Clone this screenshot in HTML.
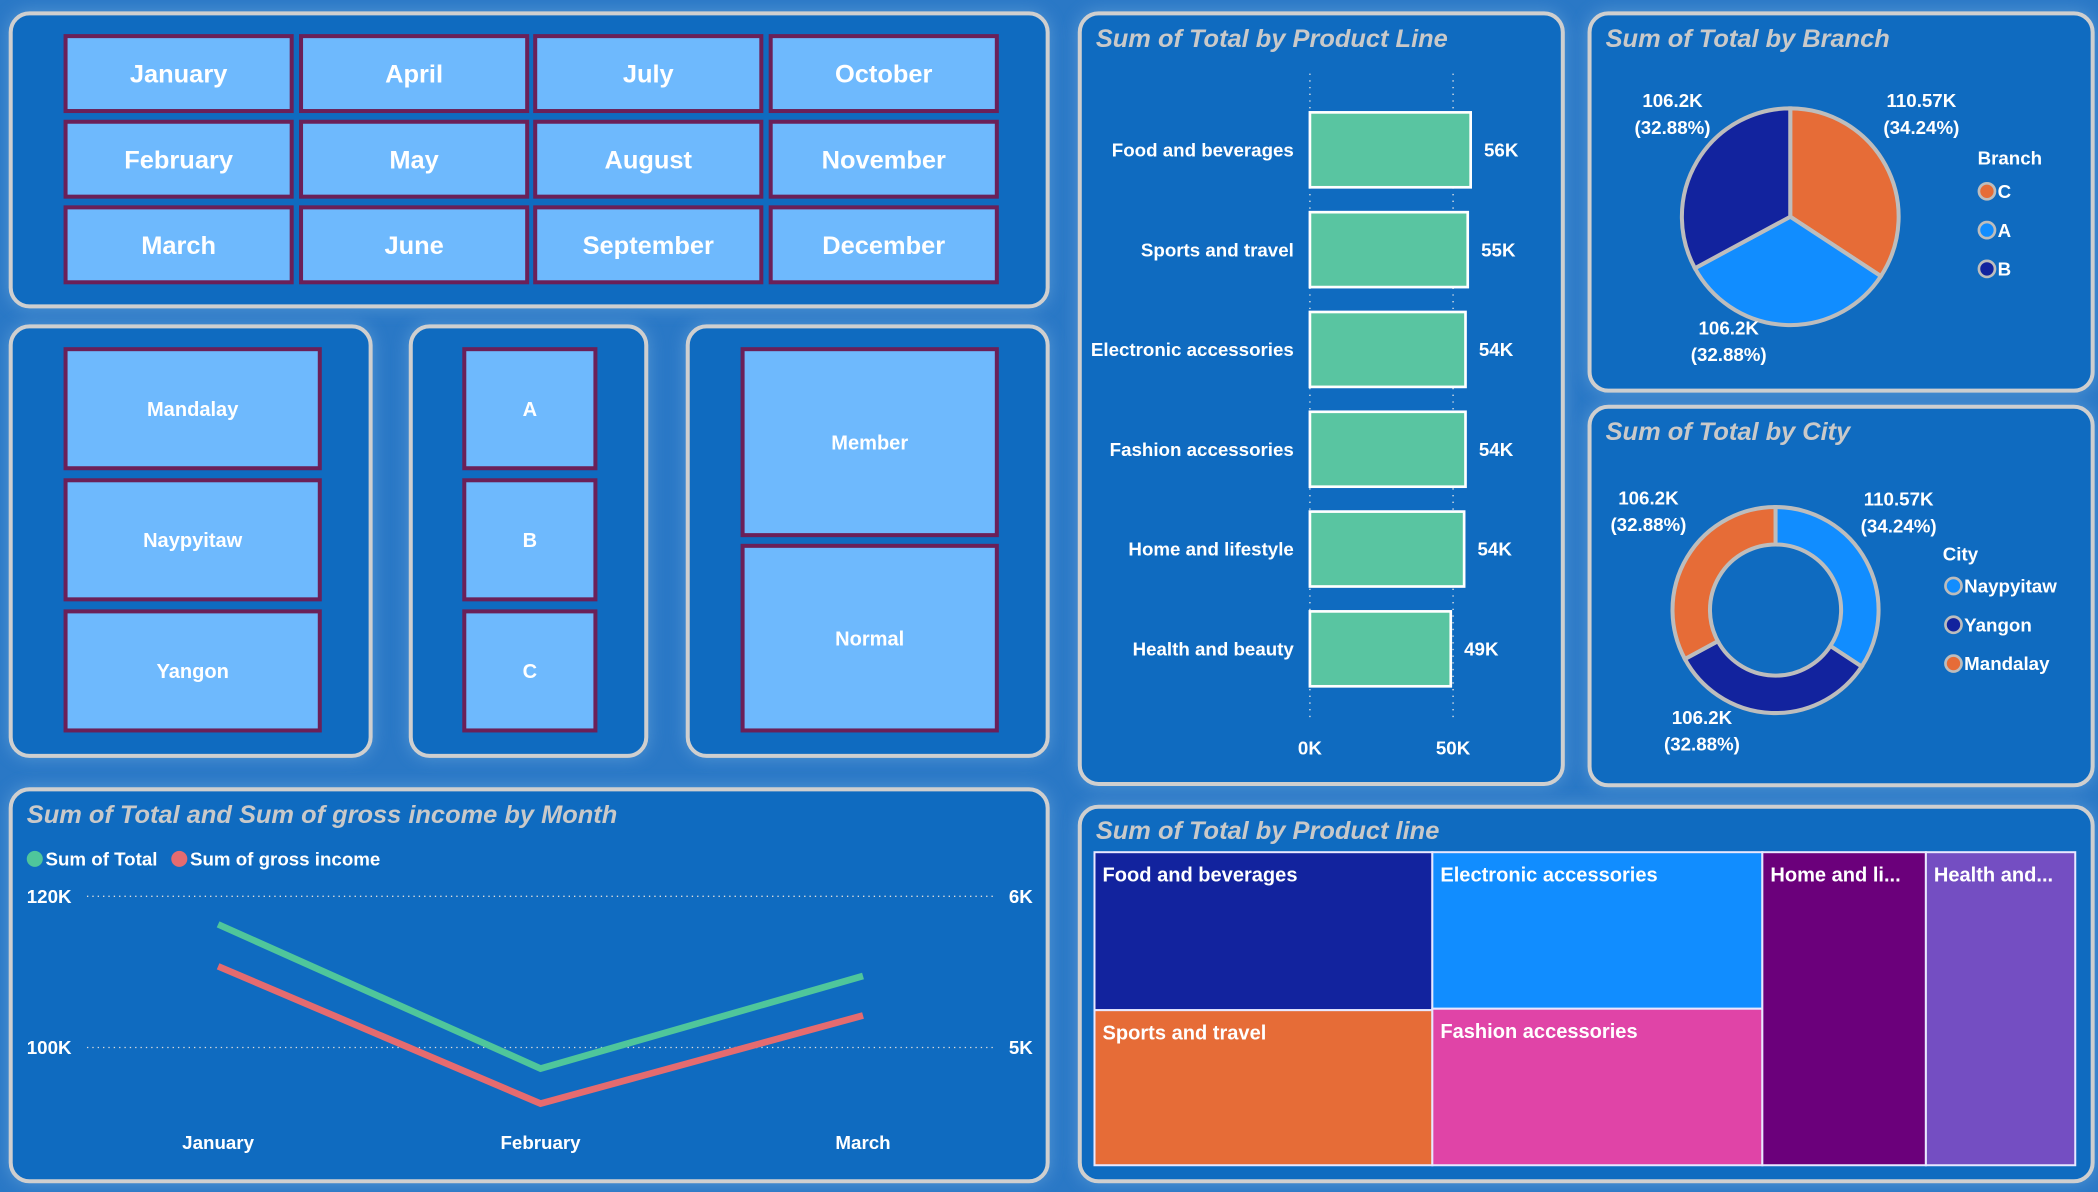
<!DOCTYPE html>
<html><head><meta charset="utf-8">
<style>
html,body{margin:0;padding:0;background:#1f6fc0;}
svg{display:block;}
text{font-family:"Liberation Sans",sans-serif;}
</style></head>
<body>
<svg id="root" width="2098" height="1192" viewBox="0 0 1568 891" preserveAspectRatio="none" xmlns="http://www.w3.org/2000/svg">
<defs>
<filter id="glow" x="-10%" y="-10%" width="120%" height="120%"><feGaussianBlur stdDeviation="6"/></filter>
</defs>
<rect x="0" y="0" width="1568" height="891" fill="#2a78c6"/>
<g id="panels"></g>
<g id="content"></g>
</svg>
<script>
const NS='http://www.w3.org/2000/svg';
const root=document.getElementById('root');
const P=document.getElementById('panels');
const C=document.getElementById('content');
function mk(tag,attrs,parent){const e=document.createElementNS(NS,tag);for(const k in attrs)e.setAttribute(k,attrs[k]);(parent||C).appendChild(e);return e;}
function txt(x,y,s,attrs,parent){const t=mk('text',Object.assign({x:x,y:y,fill:'#fff','font-weight':'bold','font-size':14},attrs),parent);t.textContent=s;return t;}

// ---- data ----
const months=['January','April','July','October','February','May','August','November','March','June','September','December'];
const cities=['Mandalay','Naypyitaw','Yangon'];
const branches=['A','B','C'];
const customerTypes=['Member','Normal'];
const productLines=['Food and beverages','Sports and travel','Electronic accessories','Fashion accessories','Home and lifestyle','Health and beauty'];
const productTotals=[56.14,55.12,54.34,54.34,53.86,49.19];
const barTicks=[0,50];
const branchNames=['C','A','B'];
const branchTotals=[110.57,106.2,106.2];
const cityNames=['Naypyitaw','Yangon','Mandalay'];
const cityTotals=[110.57,106.2,106.2];
const lineMonths=['January','February','March'];
const sumTotal=[116.29,97.22,109.46];
const sumGross=[5.537,4.629,5.212];
const leftTicks=[100,120];
const rightTicks=[5,6];
const treeNames=['Food and beverages','Sports and travel','Electronic accessories','Fashion accessories','Home and lifestyle','Health and beauty'];
const treeValues=[56.14,55.12,54.34,54.34,53.86,49.19];

// ---- panels ----
const panels=[
 ['month-slicer-panel',8,10,775,219],['city-slicer-panel',8,244,269,321],['branch-slicer-panel',307,244,176,321],
 ['customer-type-slicer-panel',514,244,269,321],['product-line-bar-panel',807,10,361,576],
 ['branch-pie-panel',1188,10,376,282],['city-donut-panel',1188,304,376,283],
 ['month-line-panel',8,590,775,293],['product-treemap-panel',807,603,757,280]];
panels.forEach(p=>{
 mk('rect',{x:p[1]-2,y:p[2]-2,width:p[3]+4,height:p[4]+4,rx:16,fill:'#6aa6dc',opacity:0.6,filter:'url(#glow)'},P);
 const r=mk('rect',{x:p[1],y:p[2],width:p[3],height:p[4],rx:14,fill:'#0f6bc0',stroke:'#cfcfcf','stroke-width':3},P);
 
 
});

function button(x,y,w,h,label,fs,name){
 const g=mk('g',{});
 
 
 mk('rect',{x:x,y:y,width:w,height:h,fill:'#6eb9fd',stroke:'#6b2058','stroke-width':3},g);
 txt(x+w/2,y+h/2+fs*0.36,label,{'text-anchor':'middle','font-size':fs},g);
}
// month slicer
const mx=[49,225,400,576],my=[27,91,155];
months.forEach((m,i)=>button(mx[i%4],my[Math.floor(i/4)],169,56,m,19,'month-button-'+m.toLowerCase()));
const sy=[261,359,457];
cities.forEach((c,i)=>button(49,sy[i],190,89,c,15,'city-button-'+c.toLowerCase()));
branches.forEach((b,i)=>button(347,sy[i],98,89,b,15,'branch-button-'+b.toLowerCase()));
button(555,261,190,139,customerTypes[0],15,'customer-type-button-member');
button(555,408,190,138,customerTypes[1],15,'customer-type-button-normal');

function title(x,y,s,name){const t=txt(x,y,s,{fill:'#c9c9c9','font-size':19,'font-style':'italic'});}

// ---- bar chart ----
title(819,35,'Sum of Total by Product Line','bar-chart-title');
const bx0=979,bPerK=107/50;
const bxs=v=>bx0+v*bPerK;
barTicks.forEach(t=>{
 const l=mk('line',{x1:bxs(t),x2:bxs(t),y1:55,y2:540,stroke:'#e6e6e6','stroke-width':1,'stroke-dasharray':'1 4'});
 
 
 const tl=txt(bxs(t),564,t+'K',{'text-anchor':'middle','font-size':14});
 
 
});
const barTop=84,barStep=74.6,barH=56;
productLines.forEach((p,i)=>{
 const y=barTop+i*barStep;
 const r=mk('rect',{x:bx0,y:y,width:productTotals[i]*bPerK,height:barH,fill:'#59c5a1',stroke:'#fff','stroke-width':2});
 
 
 const l=txt(967,y+barH/2+5,p,{'text-anchor':'end','font-size':14});
 
 
 const v=txt(bxs(productTotals[i])+10,y+barH/2+5,Math.round(productTotals[i])+'K',{'font-size':14});
 
 
});

// ---- pie / donut ----
function arcPath(cx,cy,r,ri,a0,a1){
 const p=(a,rr)=>[cx+rr*Math.sin(a),cy-rr*Math.cos(a)];
 const large=(a1-a0)>Math.PI?1:0;
 const [x0,y0]=p(a0,r),[x1,y1]=p(a1,r);
 if(ri<=0)return `M${cx},${cy}L${x0},${y0}A${r},${r} 0 ${large} 1 ${x1},${y1}Z`;
 const [x2,y2]=p(a1,ri),[x3,y3]=p(a0,ri);
 return `M${x0},${y0}A${r},${r} 0 ${large} 1 ${x1},${y1}L${x2},${y2}A${ri},${ri} 0 ${large} 0 ${x3},${y3}Z`;
}
function pie(cx,cy,rx,ry,ri,names,vals,colors,prefix){
 const tot=vals.reduce((a,b)=>a+b,0);let a=0;
 const g=mk('g',{transform:`translate(${cx},${cy}) scale(1,${ry/rx})`});
 vals.forEach((v,i)=>{
  const a1=a+v/tot*2*Math.PI;
  const s=mk('path',{d:arcPath(0,0,rx,ri,a,a1),fill:colors[i],stroke:'#bdbdbd','stroke-width':3},g);
  
  
  a=a1;
 });
 return tot;
}
const colorMap={C:'#e66c37',A:'#118dff',B:'#12239e'};
title(1200,35,'Sum of Total by Branch','pie-chart-title');
const bTot=pie(1338,162,81,81,0,branchNames,branchTotals,branchNames.map(n=>colorMap[n]),'branch');
function fmtK(v){return (Math.round(v*100)/100)+'K';}
function pct(v,t){return '('+(v/t*100).toFixed(2)+'%)';}
const pieLabelPos=[[1436,80],[1250,80],[1292,250]];
branchTotals.forEach((v,i)=>{
 const [x,y]=pieLabelPos[i];
 const a=txt(x,y,fmtK(v),{'text-anchor':'middle','font-size':14});
 
 
 txt(x,y+20,pct(v,bTot),{'text-anchor':'middle','font-size':14});
});
txt(1478,123,'Branch',{'font-size':14});
branchNames.forEach((n,i)=>{
 const g=mk('g',{});
 
 
 mk('circle',{cx:1485,cy:143+i*29,r:6,fill:colorMap[n],stroke:'#bdbdbd','stroke-width':2},g);
 txt(1493,148+i*29,n,{'font-size':14},g);
});

const cityColor={Naypyitaw:'#118dff',Yangon:'#12239e',Mandalay:'#e66c37'};
title(1200,329,'Sum of Total by City','donut-chart-title');
const cTot=pie(1327,456,77,77,49,cityNames,cityTotals,cityNames.map(n=>cityColor[n]),'city');
const donutLabelPos=[[1419,378],[1232,377],[1272,541]];
cityTotals.forEach((v,i)=>{
 const [x,y]=donutLabelPos[i];
 const a=txt(x,y,fmtK(v),{'text-anchor':'middle','font-size':14});
 
 
 txt(x,y+20,pct(v,cTot),{'text-anchor':'middle','font-size':14});
});
txt(1452,419,'City',{'font-size':14});
cityNames.forEach((n,i)=>{
 const g=mk('g',{});
 
 
 mk('circle',{cx:1460,cy:438+i*29,r:6,fill:cityColor[n],stroke:'#bdbdbd','stroke-width':2},g);
 txt(1468,443+i*29,n,{'font-size':14},g);
});

// ---- line chart ----
title(20,615,'Sum of Total and Sum of gross income by Month','line-chart-title');
const lg=mk('g',{});


mk('circle',{cx:26,cy:642,r:6,fill:'#4fc69b'},lg);
txt(34,647,'Sum of Total',{'font-size':14},lg);
mk('circle',{cx:134,cy:642,r:6,fill:'#e56b6f'},lg);
txt(142,647,'Sum of gross income',{'font-size':14},lg);
const yTop=670,yBot=783;
const yL=v=>yBot-(v-leftTicks[0])/(leftTicks[1]-leftTicks[0])*(yBot-yTop);
const yR=v=>yBot-(v-rightTicks[0])/(rightTicks[1]-rightTicks[0])*(yBot-yTop);
const xM=i=>163+i*241;
leftTicks.forEach((t,i)=>{
 const y=yL(t);
 const gl=mk('line',{x1:65,x2:745,y1:y,y2:y,stroke:'#dcdcdc','stroke-width':1,'stroke-dasharray':'1 3'});
 
 
 txt(20,y+5,t+'K',{'font-size':14});
 txt(754,y+5,rightTicks[i]+'K',{'font-size':14});
});
lineMonths.forEach((m,i)=>{const t=txt(xM(i),859,m,{'text-anchor':'middle','font-size':14});});
const lt=mk('polyline',{points:sumTotal.map((v,i)=>xM(i)+','+yL(v)).join(' '),fill:'none',stroke:'#4fc69b','stroke-width':5,'stroke-linejoin':'miter'});


const lgi=mk('polyline',{points:sumGross.map((v,i)=>xM(i)+','+yR(v)).join(' '),fill:'none',stroke:'#e56b6f','stroke-width':5,'stroke-linejoin':'miter'});



// ---- treemap ----
title(819,627,'Sum of Total by Product line','treemap-title');
const tmX=818,tmY=637,tmW=733,tmH=234;
const tmColors=['#12239e','#e66c37','#118dff','#e044a7','#6b007b','#744ec2'];
const tmShort=['Food and beverages','Sports and travel','Electronic accessories','Fashion accessories','Home and li...','Health and...'];
const groups=[[0,1],[2,3],[4],[5]];
const tmTot=treeValues.reduce((a,b)=>a+b,0);
let cx=tmX;
groups.forEach(gp=>{
 const gs=gp.reduce((a,i)=>a+treeValues[i],0);
 const w=gs/tmTot*tmW;let cy=tmY;
 gp.forEach(i=>{
  const h=treeValues[i]/gs*tmH;
  const r=mk('rect',{x:cx,y:cy,width:w,height:h,fill:tmColors[i],stroke:'#e8e8ff','stroke-width':1.5});
  
  
  txt(cx+6,cy+22,tmShort[i],{'font-size':15});
  cy+=h;
 });
 cx+=w;
});
</script>
</body></html>
